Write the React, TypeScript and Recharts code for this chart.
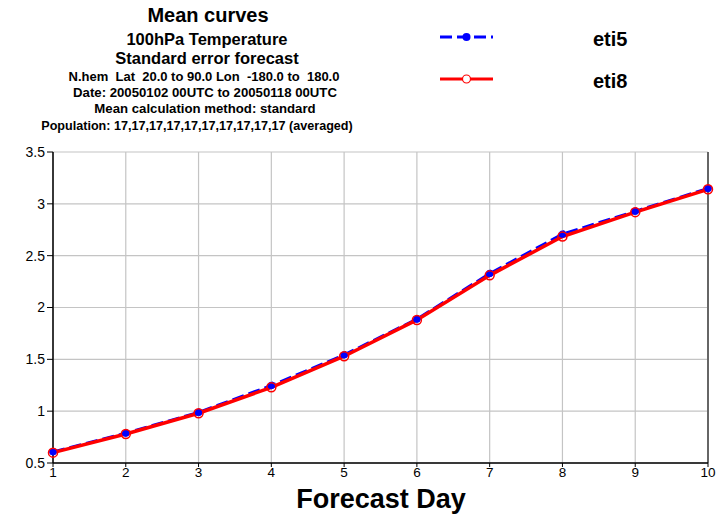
import React from "react";
import { LineChart, Line, XAxis, YAxis, CartesianGrid, ReferenceLine } from "recharts";

const days = [1, 2, 3, 4, 5, 6, 7, 8, 9, 10];
const eti5 = [0.61, 0.79, 0.99, 1.25, 1.545, 1.89, 2.33, 2.71, 2.93, 3.15];
const eti8 = [0.6, 0.78, 0.98, 1.23, 1.53, 1.88, 2.31, 2.685, 2.92, 3.14];
const yTicks = [0.5, 1, 1.5, 2, 2.5, 3, 3.5];
const titleLines = [
  "Mean curves",
  "100hPa Temperature",
  "Standard error forecast",
  "N.hem  Lat  20.0 to 90.0 Lon  -180.0 to  180.0",
  "Date: 20050102 00UTC to 20050118 00UTC",
  "Mean calculation method: standard",
  "Population: 17,17,17,17,17,17,17,17,17,17 (averaged)",
];
const seriesNames = ["eti5", "eti8"];

const data = days.map((d, i) => ({ day: d, eti5: eti5[i], eti8: eti8[i] }));

const FONT = "'Liberation Sans', Arial, sans-serif";

const titleStyle = [
  { y: 22, size: 20, x: 208 },
  { y: 45, size: 16.5, x: 207 },
  { y: 64, size: 16.5, x: 207 },
  { y: 81, size: 13, x: 204 },
  { y: 97, size: 13.2, x: 205 },
  { y: 113, size: 13.2, x: 205 },
  { y: 130, size: 12.6, x: 197 },
];

export default function App() {
  return (
    <div style={{ position: "absolute", left: 0, top: 0, width: 724, height: 515, background: "#fff" }}>
      <LineChart
        width={724}
        height={515}
        data={data}
        margin={{ top: 152, right: 16, bottom: 22, left: 8 }}
      >
        <CartesianGrid stroke="#c4c4c4" strokeWidth={1.2} />
        <XAxis
          dataKey="day"
          type="number"
          domain={[1, 10]}
          ticks={days}
          height={30}
          axisLine={{ stroke: "#000", strokeWidth: 1.5 }}
          tickLine={{ stroke: "#000" }}
          tickSize={4}
          tickMargin={0}
          tick={{ fill: "#000", fontSize: 13.5, fontFamily: FONT }}
        />
        <YAxis
          type="number"
          domain={[0.5, 3.5]}
          ticks={yTicks}
          width={45}
          axisLine={{ stroke: "#000", strokeWidth: 1.5 }}
          tickLine={{ stroke: "#000" }}
          tickSize={6}
          tickMargin={2}
          tick={{ fill: "#000", fontSize: 14, fontFamily: FONT }}
        />
        <ReferenceLine x={10} stroke="#666" strokeWidth={2} />
        <Line
          dataKey="eti5"
          stroke="#0000ff"
          strokeWidth={2.5}
          strokeDasharray="12 5"
          dot={{ r: 3.5, fill: "#0000ff", stroke: "#0000ff", strokeWidth: 1 }}
          isAnimationActive={false}
        />
        <Line
          dataKey="eti8"
          stroke="#ff0000"
          strokeWidth={3.5}
          dot={{ r: 4.5, fill: "none", fillOpacity: 0, stroke: "#ff0000", strokeWidth: 1.5, strokeDasharray: "" }}
          isAnimationActive={false}
        />
      </LineChart>
      <svg
        width={724}
        height={515}
        style={{ position: "absolute", left: 0, top: 0, pointerEvents: "none" }}
      >
        {titleLines.map((t, i) => (
          <text
            key={i}
            x={titleStyle[i].x}
            y={titleStyle[i].y}
            textAnchor="middle"
            fontFamily={FONT}
            fontWeight="bold"
            fontSize={titleStyle[i].size}
            fill="#000"
            style={{ whiteSpace: "pre" }}
          >
            {t}
          </text>
        ))}
        <line x1={440} y1={37} x2={493} y2={37} stroke="#0000ff" strokeWidth={3} strokeDasharray="12 5" />
        <circle cx={466.5} cy={37} r={4} fill="#0000ff" />
        <text x={593} y={46} fontFamily={FONT} fontWeight="bold" fontSize={20} fill="#000">
          {seriesNames[0]}
        </text>
        <line x1={440} y1={79} x2={493} y2={79} stroke="#ff0000" strokeWidth={3} />
        <circle cx={466.5} cy={79} r={4} fill="#fff" stroke="#ff0000" strokeWidth={1.2} />
        <text x={593} y={88} fontFamily={FONT} fontWeight="bold" fontSize={20} fill="#000">
          {seriesNames[1]}
        </text>
        <text x={381} y={507.5} textAnchor="middle" fontFamily={FONT} fontWeight="bold" fontSize={27} fill="#000">
          Forecast Day
        </text>
      </svg>
    </div>
  );
}
